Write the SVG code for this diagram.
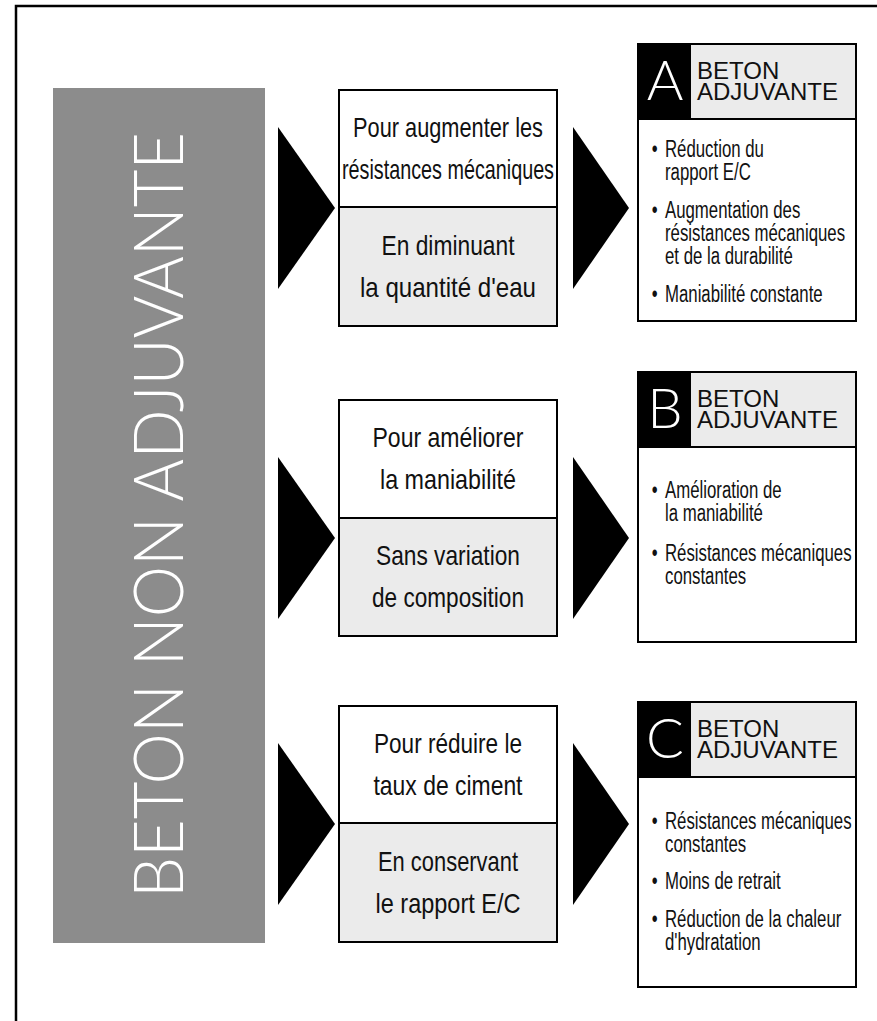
<svg xmlns="http://www.w3.org/2000/svg" width="877" height="1021" viewBox="0 0 877 1021">
<style>
.frame{fill:none;stroke:#000;stroke-width:2.5}
.box{fill:#fff;stroke:#000;stroke-width:2}
.half{fill:#ebebeb;stroke:#000;stroke-width:2}
.hdr{fill:#ebebeb;stroke:none}
.blk{fill:#000}
.tri{fill:#000}
.mid{font-family:"Liberation Sans",Arial,sans-serif;font-size:28px;fill:#111;text-anchor:middle}
.body{font-family:"Liberation Sans",Arial,sans-serif;font-size:23px;fill:#111}
.hw{font-family:"Liberation Sans",Arial,sans-serif;font-size:24px;fill:#111}
.big{font-family:Lato,"Open Sans","Liberation Sans",sans-serif;font-weight:300;font-size:56px;fill:#fff;text-anchor:middle}
.vert{font-family:Lato,"Open Sans","Liberation Sans",sans-serif;font-weight:300;font-size:68px;fill:#fff;text-anchor:middle}
</style>
<rect x="0" y="0" width="877" height="1021" fill="#fff"/>
<rect class="frame" x="16" y="6" width="900" height="1100"/>

<g id="beton-non-adjuvante">
<rect x="53" y="88" width="212" height="855" fill="#8c8c8c"/>
<text class="vert" transform="translate(183 515) rotate(-90)" x="0" y="0" textLength="766" lengthAdjust="spacingAndGlyphs">BETON NON ADJUVANTE</text>
</g>

<g id="connectors">
<polygon class="tri" points="278,127 335,208 278,289"/>
<polygon class="tri" points="573,127 629,208 573,289"/>
<polygon class="tri" points="278,457 335,538 278,619"/>
<polygon class="tri" points="573,457 629,538 573,619"/>
<polygon class="tri" points="278,743 335,824 278,905"/>
<polygon class="tri" points="573,743 629,824 573,905"/>
</g>

<g id="action-1">
<rect class="box" x="339" y="90" width="218" height="117"/>
<rect class="half" x="339" y="207" width="218" height="119"/>
<text class="mid" x="448" y="136.5" textLength="190" lengthAdjust="spacingAndGlyphs">Pour augmenter les</text>
<text class="mid" x="448" y="178.5" textLength="212" lengthAdjust="spacingAndGlyphs">résistances mécaniques</text>
<text class="mid" x="448" y="254.5" textLength="133" lengthAdjust="spacingAndGlyphs">En diminuant</text>
<text class="mid" x="448" y="296.5" textLength="176" lengthAdjust="spacingAndGlyphs">la quantité d'eau</text>
</g>

<g id="action-2">
<rect class="box" x="339" y="400" width="218" height="118"/>
<rect class="half" x="339" y="518" width="218" height="118"/>
<text class="mid" x="448" y="447" textLength="151" lengthAdjust="spacingAndGlyphs">Pour améliorer</text>
<text class="mid" x="448" y="489" textLength="136" lengthAdjust="spacingAndGlyphs">la maniabilité</text>
<text class="mid" x="448" y="565" textLength="144" lengthAdjust="spacingAndGlyphs">Sans variation</text>
<text class="mid" x="448" y="607" textLength="152" lengthAdjust="spacingAndGlyphs">de composition</text>
</g>

<g id="action-3">
<rect class="box" x="339" y="706" width="218" height="117"/>
<rect class="half" x="339" y="823" width="218" height="119"/>
<text class="mid" x="448" y="752.5" textLength="148" lengthAdjust="spacingAndGlyphs">Pour réduire le</text>
<text class="mid" x="448" y="794.5" textLength="149" lengthAdjust="spacingAndGlyphs">taux de ciment</text>
<text class="mid" x="448" y="870.5" textLength="140" lengthAdjust="spacingAndGlyphs">En conservant</text>
<text class="mid" x="448" y="912.5" textLength="145" lengthAdjust="spacingAndGlyphs">le rapport E/C</text>
</g>

<g id="result-a">
<rect class="box" x="638" y="44" width="218" height="277"/>
<rect class="blk" x="638" y="44" width="53" height="75"/>
<rect class="hdr" x="691" y="45" width="164" height="74"/>
<line x1="638" y1="119" x2="856" y2="119" stroke="#000" stroke-width="2"/>
<text class="big" x="665" y="100">A</text>
<text class="hw"><tspan x="697" y="79">BETON</tspan><tspan x="697" y="100">ADJUVANTE</tspan></text>
<g transform="translate(665 0) scale(0.73 1)">
<text class="body" y="157"><tspan x="-18">•</tspan><tspan x="0">Réduction du</tspan></text>
<text class="body" x="0" y="180">rapport E/C</text>
<text class="body" y="218"><tspan x="-18">•</tspan><tspan x="0">Augmentation des</tspan></text>
<text class="body" x="0" y="241">résistances mécaniques</text>
<text class="body" x="0" y="264">et de la durabilité</text>
<text class="body" y="302"><tspan x="-18">•</tspan><tspan x="0">Maniabilité constante</tspan></text>
</g>
</g>

<g id="result-b">
<rect class="box" x="638" y="372" width="218" height="270"/>
<rect class="blk" x="638" y="372" width="53" height="75"/>
<rect class="hdr" x="691" y="373" width="164" height="74"/>
<line x1="638" y1="447" x2="856" y2="447" stroke="#000" stroke-width="2"/>
<text class="big" x="665" y="428">B</text>
<text class="hw"><tspan x="697" y="407">BETON</tspan><tspan x="697" y="428">ADJUVANTE</tspan></text>
<g transform="translate(665 0) scale(0.73 1)">
<text class="body" y="498"><tspan x="-18">•</tspan><tspan x="0">Amélioration de</tspan></text>
<text class="body" x="0" y="521">la maniabilité</text>
<text class="body" y="561"><tspan x="-18">•</tspan><tspan x="0">Résistances mécaniques</tspan></text>
<text class="body" x="0" y="584">constantes</text>
</g>
</g>

<g id="result-c">
<rect class="box" x="638" y="702" width="218" height="285"/>
<rect class="blk" x="638" y="702" width="53" height="75"/>
<rect class="hdr" x="691" y="703" width="164" height="74"/>
<line x1="638" y1="777" x2="856" y2="777" stroke="#000" stroke-width="2"/>
<text class="big" x="665" y="758">C</text>
<text class="hw"><tspan x="697" y="737">BETON</tspan><tspan x="697" y="758">ADJUVANTE</tspan></text>
<g transform="translate(665 0) scale(0.73 1)">
<text class="body" y="829"><tspan x="-18">•</tspan><tspan x="0">Résistances mécaniques</tspan></text>
<text class="body" x="0" y="852">constantes</text>
<text class="body" y="889"><tspan x="-18">•</tspan><tspan x="0">Moins de retrait</tspan></text>
<text class="body" y="927"><tspan x="-18">•</tspan><tspan x="0">Réduction de la chaleur</tspan></text>
<text class="body" x="0" y="950">d'hydratation</text>
</g>
</g>
</svg>
